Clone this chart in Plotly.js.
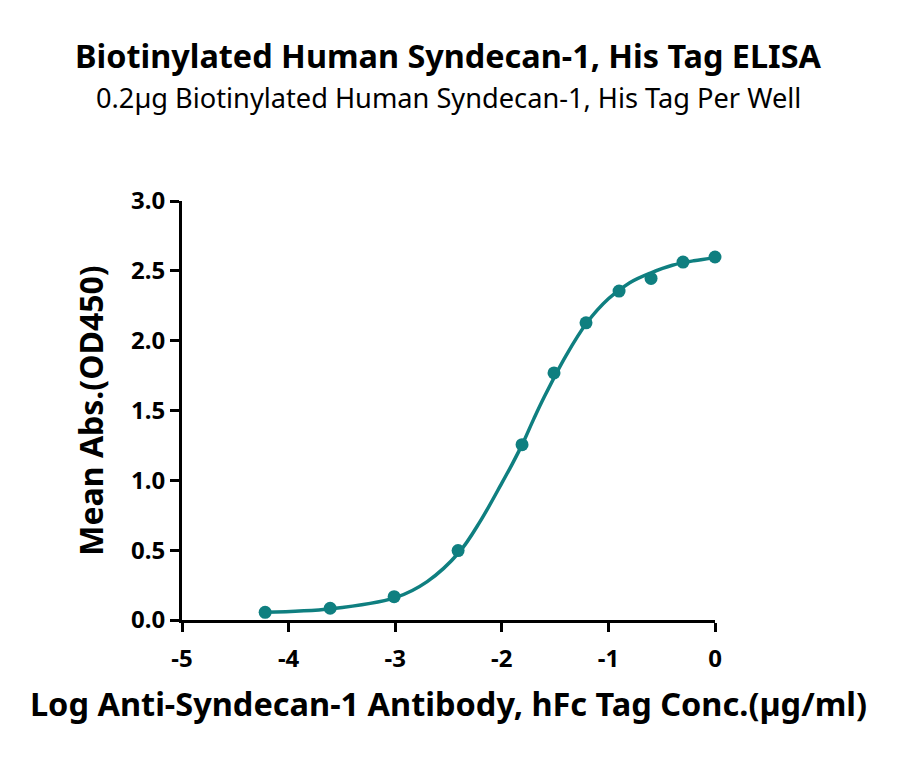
<!DOCTYPE html>
<html>
<head>
<meta charset="utf-8">
<script src="https://cdn.plot.ly/plotly-3.0.1.min.js"></script>
<style>
  html, body { margin: 0; padding: 0; background: #fff; }
  #chart { width: 900px; height: 758px; }
</style>
</head>
<body>
<div id="chart"></div>
<script>
// Measured points: log10 concentration (ug/ml) vs mean OD450
const logConc = [-4.22, -3.61, -3.01, -2.41, -1.81, -1.51, -1.21, -0.90, -0.60, -0.30, 0.00];
const meanOD = [0.055, 0.084, 0.167, 0.497, 1.255, 1.769, 2.128, 2.355, 2.446, 2.563, 2.599];

// Fitted curve
const fitX = [-4.22, -3.6, -3.0, -2.7, -2.4, -2.2, -2.0, -1.9, -1.8, -1.7, -1.6, -1.4, -1.2, -1.0, -0.8, -0.6, -0.4, -0.2, 0.0];
const fitY = [0.055, 0.08, 0.16, 0.275, 0.485, 0.71, 0.98, 1.12, 1.27, 1.44, 1.60, 1.89, 2.13, 2.30, 2.415, 2.486, 2.54, 2.572, 2.594];

const xTicks = [-5, -4, -3, -2, -1, 0];
const xTickText = ['-5', '-4', '-3', '-2', '-1', '0'];
const yTicks = [0, 0.5, 1.0, 1.5, 2.0, 2.5, 3.0];
const yTickText = ['0.0', '0.5', '1.0', '1.5', '2.0', '2.5', '3.0'];

const TEAL = '#0f7f80';
const FONT = '"Noto Sans", "Open Sans", sans-serif';

const traces = [
    {
        type: 'scatter',
        mode: 'lines',
        x: fitX,
        y: fitY,
        line: { color: TEAL, width: 3.5, shape: 'spline', smoothing: 1 },
        hoverinfo: 'skip',
        cliponaxis: false
    },
    {
        type: 'scatter',
        mode: 'markers',
        x: logConc,
        y: meanOD,
        marker: { color: TEAL, size: 13 },
        cliponaxis: false
    }
];

const axisStyle = {
    showgrid: false,
    zeroline: false,
    showline: true,
    linecolor: '#000',
    linewidth: 3,
    ticks: 'outside',
    ticklen: 9,
    tickwidth: 3,
    tickcolor: '#000',
    tickfont: { size: 24, family: FONT, weight: 'bold' }
};

const layout = {
    width: 900,
    height: 758,
    paper_bgcolor: '#fff',
    plot_bgcolor: '#fff',
    showlegend: false,
    font: { family: FONT, color: '#000' },
    margin: { l: 182, r: 185, t: 201, b: 138 },
    xaxis: Object.assign({}, axisStyle, {
        range: [-5, 0],
        tickvals: xTicks,
        ticktext: xTickText,
        ticklabelstandoff: 6,
        title: {
            text: '<b>Log Anti-Syndecan-1 Antibody, hFc Tag Conc.(µg/ml)</b>',
            font: { size: 32.5, family: FONT },
            standoff: 21
        }
    }),
    yaxis: Object.assign({}, axisStyle, {
        range: [0, 3],
        tickvals: yTicks,
        ticktext: yTickText,
        title: {
            text: '<b>Mean Abs.(OD450)</b>',
            font: { size: 32, family: FONT },
            standoff: 18
        }
    }),
    annotations: [
        {
            text: '<b>Biotinylated Human Syndecan-1, His Tag ELISA</b>',
            xref: 'paper', yref: 'paper',
            x: 0.5, y: 1.348, xanchor: 'center', yanchor: 'middle',
            showarrow: false,
            font: { size: 32.4, family: FONT, color: '#000' }
        },
        {
            text: '0.2µg Biotinylated Human Syndecan-1, His Tag Per Well',
            xref: 'paper', yref: 'paper',
            x: 0.5, y: 1.246, xanchor: 'center', yanchor: 'middle',
            showarrow: false,
            font: { size: 27.2, family: FONT, color: '#000' }
        }
    ]
};

Plotly.newPlot('chart', traces, layout, { displayModeBar: false, staticPlot: true });
</script>
</body>
</html>
